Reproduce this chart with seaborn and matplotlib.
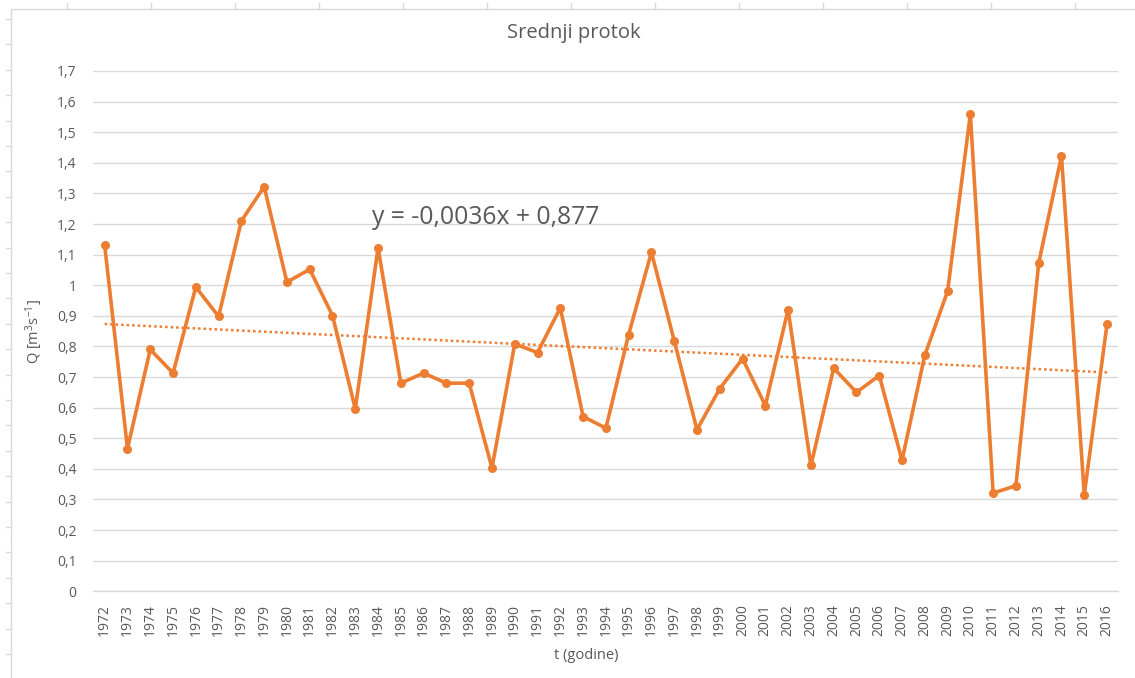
import matplotlib
matplotlib.use('Agg')
import matplotlib.pyplot as plt
import numpy as np
import pandas as pd
import seaborn as sns
from matplotlib.lines import Line2D

# Data
years = list(range(1972, 2017))
protok = [1.13, 0.466, 0.79, 0.713, 0.994, 0.898, 1.21, 1.322, 1.01, 1.052,
          0.901, 0.596, 1.122, 0.68, 0.713, 0.68, 0.68, 0.403, 0.808, 0.78,
          0.926, 0.571, 0.533, 0.839, 1.108, 0.819, 0.528, 0.662, 0.76, 0.607,
          0.92, 0.411, 0.729, 0.65, 0.705, 0.428, 0.771, 0.98, 1.559, 0.321,
          0.345, 1.072, 1.423, 0.315, 0.873]
trend_slope = -0.0036
trend_intercept = 0.877
y_ticks = [round(0.1 * i, 1) for i in range(18)]

df = pd.DataFrame({'year': years, 'Q': protok})
# Excel trendline uses x = 1..n
df['trend'] = trend_intercept + trend_slope * (df['year'] - years[0] + 1)

sns.set_theme(style='white')
plt.rcParams['font.family'] = ['Open Sans', 'DejaVu Sans']
plt.rcParams['mathtext.fontset'] = 'custom'
plt.rcParams['mathtext.rm'] = 'Open Sans'
plt.rcParams['mathtext.it'] = 'Open Sans:italic'

orange = '#ED7D31'
txt = '#595959'
grid = '#D9D9D9'

fig = plt.figure(figsize=(11.35, 6.78), dpi=100)
ax = fig.add_axes([0.0822, 0.1279, 0.9032, 0.7674])

sns.lineplot(data=df, x='year', y='trend', ax=ax, color=orange,
             linestyle=(0, (1, 1.2)), linewidth=1.8, zorder=2)
sns.lineplot(data=df, x='year', y='Q', ax=ax, color=orange, linewidth=2.6,
             marker='o', markersize=6.5, markeredgewidth=0, zorder=3)

ax.set_xlim(years[0] - 0.5, years[-1] + 0.5)
ax.set_ylim(0, 1.7)
ax.set_yticks(y_ticks)
ax.set_yticklabels([f'{v:g}'.replace('.', ',') for v in y_ticks])
ax.set_xticks(years)
ax.set_xticklabels([str(y) for y in years], rotation=90)
ax.tick_params(axis='both', length=0, labelsize=10, labelcolor=txt)
ax.tick_params(axis='y', pad=12)
ax.tick_params(axis='x', pad=9)

ax.yaxis.grid(True, color=grid, linewidth=1)
ax.set_axisbelow(True)
for s in ['top', 'right', 'left']:
    ax.spines[s].set_visible(False)
ax.spines['bottom'].set_color(grid)
ax.spines['bottom'].set_linewidth(1)

ax.set_xlabel('t (godine)', fontsize=10.5, color=txt)
ax.xaxis.set_label_coords(0.481, -0.109)
ax.set_ylabel(r'Q [m$^{\mathrm{3}}$s$^{\mathrm{-1}}$]', fontsize=10.5, color=txt)
ax.yaxis.set_label_coords(-0.047, 0.5)

ax.set_title('Srednji protok', fontsize=14.5, color=txt, x=0.469, y=1.048)
ax.text(0.272, 0.719, 'y = -0,0036x + 0,877', transform=ax.transAxes,
        ha='left', va='center', fontsize=17.8, color=txt)

# spreadsheet frame around the chart
W, H = 1135, 678
fig.add_artist(Line2D([11 / W, 11 / W], [0, 1 - 9 / H], color=grid, lw=1))
fig.add_artist(Line2D([11 / W, 1], [1 - 9 / H, 1 - 9 / H], color=grid, lw=1))
for k in range(13):
    x = (67 + 84 * k) / W
    fig.add_artist(Line2D([x, x], [1 - 9 / H, 1 - 3 / H], color=grid, lw=1))
for k in range(27):
    y = 1 - (19 + 25.4 * k) / H
    if y > 0:
        fig.add_artist(Line2D([6 / W, 11 / W], [y, y], color=grid, lw=1))

fig.savefig('out.png', dpi=100)
